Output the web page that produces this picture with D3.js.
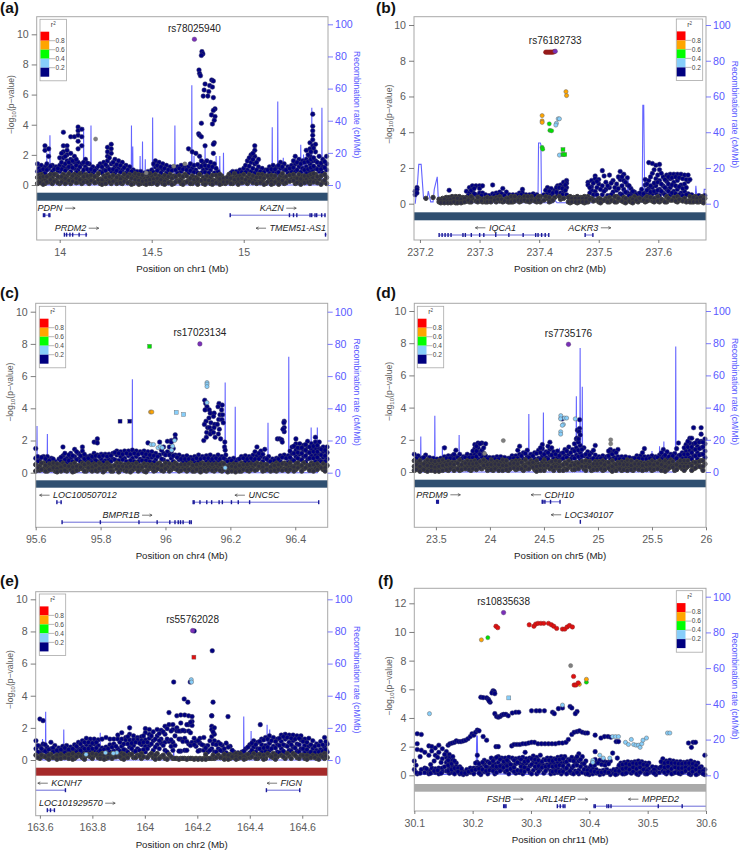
<!DOCTYPE html>
<html><head><meta charset="utf-8">
<script src="https://cdn.jsdelivr.net/npm/d3@7/dist/d3.min.js"></script>
<style>html,body{margin:0;padding:0;background:#fff}svg{display:block}text{font-family:"Liberation Sans",Arial,sans-serif}</style>
</head><body><svg id="c" width="740" height="851"></svg>
<script>
// ===== Legend =====
const r2Colors = ["#ff0000","#ffa500","#00ff00","#87cefa","#000080"];
const r2Labels = ["0.8","0.6","0.4","0.2"];
const yTicks10 = [0,2,4,6,8,10];
const yTicks12 = [0,2,4,6,8,10,12];
const recTicks = [0,20,40,60,80,100];

// ===== Panel a ===== columns: [position, -log10p values...]
const colsA = [[13.88,1.4,.9,.5,.1],[13.90,1.3,.7,.3],[13.92,2.6,2.3,1.2,.8,.4,.1],[13.94,2.4,1.9,1.1,.6,.2],[13.96,1.3,.9,.5,.1],[13.98,1.2,.7,.3],[14.00,1.8,1.3,.9,.5,.1],[14.02,3.5,2.6,2.2,1.8,1.2,.7,.3],[14.04,2.6,2.3,2.0,1.6,1.1,.6,.2],[14.06,3.2,2.1,1.7,1.3,.9,.4,.1],[14.08,3.2,1.9,1.5,1.1,.7,.3],[14.10,3.85,3.6,3.3,2.9,2.4,1.5,1.0,.6,.2],[14.12,3.7,3.2,2.6,1.4,.8,.4,.1],[14.14,1.7,1.2,.7,.3],[14.16,1.4,.9,.5,.1],[14.18,1.2,.8,.3],[14.20,1.1,.6,.2],[14.22,1.4,.9,.4,.1],[14.24,1.5,1.0,.6,.2],[14.26,2.5,2.2,1.9,1.6,1.2,.7,.3],[14.28,2.7,2.4,2.1,1.4,.9,.5,.1],[14.30,1.7,1.2,.8,.3],[14.32,1.6,1.1,.6,.2],[14.34,1.5,1.0,.5,.1],[14.36,1.3,.8,.4],[14.38,1.2,.7,.2],[14.40,1.0,.6,.1],[14.42,.9,.5,.2],[14.44,.9,.4,.1],[14.46,.8,.4,.1],[14.48,.9,.5,.2],[14.50,1.0,.6,.1],[14.52,1.6,1.2,.7,.3],[14.54,1.5,1.1,.6,.2],[14.56,1.4,1.0,.5,.1],[14.58,1.3,.8,.4],[14.60,1.2,.7,.2],[14.62,1.1,.6,.1],[14.64,1.2,.8,.3],[14.66,1.3,.9,.4,.1],[14.68,1.2,.7,.2],[14.70,2.4,1.2,.8,.3],[14.72,2.2,1.1,.6,.1],[14.74,2.1,1.0,.5,.2],[14.76,1.9,1.2,.7,.3],[14.78,1.5,1.0,.5,.1],[14.80,1.6,1.1,.6,.2],[14.82,1.5,1.0,.5,.1],[14.84,1.4,.8,.3],[14.86,.9,.5,.2],[14.88,.6,.3,.1],[14.90,.4,.1],[14.92,.7,.3],[14.94,.9,.5,.1],[14.96,.9,.6,.2],[14.98,1.0,.6,.3],[15.00,1.1,.7,.2],[15.02,1.6,1.0,.5,.1],[15.04,2.0,1.5,.9,.4],[15.06,2.6,2.3,1.9,1.4,.8,.3],[15.08,1.7,1.2,.7,.2],[15.10,1.1,.7,.3],[15.12,1.0,.6,.1],[15.14,1.2,.8,.4],[15.16,1.3,.9,.5,.1],[15.18,1.2,.8,.3],[15.20,1.5,1.1,.6,.2],[15.22,1.4,1.0,.5,.1],[15.24,1.2,.8,.3],[15.26,1.3,.9,.4],[15.28,1.9,1.4,.9,.5,.1],[15.30,1.7,1.2,.7,.2],[15.32,1.6,1.1,.6,.3],[15.34,2.3,1.7,1.2,.8,.4],[15.36,2.8,2.4,1.9,1.4,.9,.5,.1],[15.375,4.7,3.9,3.6,3.3,3.0,2.6,1.6,1.0,.5],[15.39,2.7,2.2,1.6,1.1,.7,.3],[15.41,1.9,1.3,.9,.4],[15.43,1.7,1.2,.8,.2],[15.45,1.9,1.4,1.0,.5,.1]];
const fillA = [[13.887,1.1,.65,.2],[13.895,.95,.5,.15],[13.91,1.05,.55,.05],[13.93,1.4,1.0,.55,.2],[13.95,1.25,.7,.35],[13.97,1.05,.7,.25],[13.99,.95,.55,.15],[14.01,2.1,1.5,1.05,.55,.2],[14.03,1.9,1.4,.95,.45,.1],[14.05,1.5,1.2,.75,.3],[14.07,1.6,1.15,.6,.25],[14.09,1.7,1.3,.85,.45,.15],[14.11,1.2,.75,.35],[14.13,1.5,1.0,.55,.2],[14.15,1.45,1.05,.6,.2],[14.17,1.05,.65,.3],[14.19,.95,.55,.15],[14.21,1.25,.75,.35],[14.23,1.2,.8,.35,.05],[14.25,1.35,.95,.5,.1],[14.27,1.8,1.05,.55,.2],[14.29,1.5,1.05,.65,.25],[14.31,1.35,.95,.5,.1],[14.33,1.3,.85,.4,.15],[14.35,1.15,.7,.25],[14.37,1.0,.55,.15],[14.39,.9,.45,.05],[14.41,.75,.35],[14.43,.7,.3,.05],[14.45,.65,.25],[14.47,.7,.3,.05],[14.49,.75,.35,.1],[14.51,1.4,.85,.4,.15],[14.53,1.3,.95,.45,.05],[14.55,1.2,.8,.35],[14.57,1.1,.65,.25,.05],[14.59,1.0,.55,.15],[14.61,.95,.45,.05],[14.63,1.0,.55,.2],[14.65,1.1,.65,.25],[14.67,1.05,.55,.05],[14.69,1.0,.6,.2],[14.71,1.4,.95,.45,.1],[14.73,1.3,.85,.35],[14.75,1.35,.8,.4,.05],[14.77,1.6,1.25,.8,.3],[14.79,1.3,.85,.35,.05],[14.81,1.25,.8,.3],[14.83,1.2,.65,.25,.05],[14.85,1.1,.65,.15],[14.87,.7,.4,.05],[14.89,.45,.2],[14.91,.5,.2],[14.93,.8,.45,.1],[14.95,.75,.35],[14.97,.8,.4,.05],[14.99,.85,.45,.15],[15.01,1.3,.85,.35],[15.03,1.8,1.25,.7,.25],[15.05,2.1,1.7,1.1,.6,.15],[15.07,1.5,1.0,.5,.1],[15.09,.9,.5,.15],[15.11,.85,.45,.05],[15.13,1.0,.6,.2],[15.15,1.05,.65,.25,.05],[15.17,1.05,.6,.2],[15.19,1.3,.85,.4,.05],[15.21,1.2,.75,.3],[15.23,1.0,.55,.15],[15.25,1.1,.65,.25],[15.27,1.6,1.15,.7,.3],[15.29,1.5,1.0,.45,.15],[15.31,1.4,.85,.4,.05],[15.33,1.5,1.0,.6,.15],[15.35,2.0,1.55,1.05,.6,.2],[15.365,2.2,1.7,1.15,.7,.25],[15.38,2.45,1.8,1.25,.75,.2],[15.40,1.5,1.05,.55,.15],[15.42,1.45,1.05,.6,.05],[15.44,1.55,1.15,.7,.3]];
const navyA = [[14.773,8.85],[14.778,8.7],[14.77,8.6],[14.757,7.63],[14.76,7.4],[14.765,7.25],[14.826,6.97],[14.835,6.9],[14.79,6.7],[14.815,6.6],[14.83,6.5],[14.785,6.3],[14.81,6.2],[14.78,5.9],[14.805,5.9],[14.835,5.8],[14.844,5.05],[14.835,4.95],[14.825,4.65],[14.844,4.55],[14.84,4.3],[14.83,4.05],[14.77,4.1],[14.755,3.4],[14.76,3.3],[14.77,3.2],[14.84,2.8],[14.835,2.7],[14.79,2.6],[14.835,2.1],[13.99,1.1]];
const grayA = [[14.195,3.05],[14.62,1.25],[14.68,1.4],[14.47,.8]];
const leadA = [[14.732,9.67,"rs78025940"]];
const recA = [[13.907,12],[13.947,31],[13.93,20],[14.008,14],[14.13,36],[14.17,37],[14.39,37],[14.397,24],[14.437,18],[14.45,27],[14.465,16],[14.505,42],[14.626,37],[14.718,62],[14.73,18],[14.79,25],[14.85,18],[14.87,18],[14.89,20],[15.155,36],[15.185,52],[15.215,17],[15.28,18],[15.31,25],[15.325,19],[15.34,18],[15.37,48],[15.425,48]];

// ===== Panel b =====
const colsB = [[237.192,.7,.5],[237.195,.9,.8,.6],[237.210,.3],[237.222,.35],[237.232,.25,.1],[237.238,.3,.1],[237.244,.35,.15],[237.249,.75,.35,.1],[237.254,.4,.15],[237.260,.4,.2,.05],[237.266,.4,.15],[237.272,.35,.1],[237.278,.7,.35,.15],[237.283,.9,.6,.3,.1],[237.288,1.0,.7,.3],[237.294,1.0,.5,.15],[237.300,1.0,.85,.6,.3],[237.305,1.0,.6,.25,.1],[237.310,.5,.3,.1],[237.316,.45,.15],[237.322,1.05,.55,.3],[237.328,.6,.35,.1],[237.334,.65,.4,.15],[237.339,.85,.5,.1],[237.345,.65,.3],[237.350,.5,.1],[237.356,.5,.25,.1],[237.362,.5,.3],[237.367,.6,.35,.1],[237.372,.8,.6,.3],[237.378,.5,.15],[237.384,.5,.3,.1],[237.390,.55,.2],[237.396,.5,.3,.1],[237.402,.4,.1],[237.408,.5,.2],[237.414,.9,.6,.3],[237.420,.85,.5,.15],[237.426,.75,.35],[237.431,1.0,.85,.5],[237.436,1.05,.6,.25],[237.441,1.2,.95,.7,.3],[237.446,1.3,1.15,.9,.5],[237.452,.4,.2,.05],[237.458,.35,.15],[237.464,.4,.2,.05],[237.470,.35,.15],[237.476,.4,.2,.05],[237.482,1.2,1.05,.4,.1],[237.488,1.3,.95,.75,.3],[237.494,1.55,1.4,.7,.2],[237.500,1.35,1.1,.3,.1],[237.506,1.85,1.0,.5,.15],[237.512,1.2,.8,.3],[237.518,1.6,.9,.35,.1],[237.524,1.3,.65,.2],[237.530,1.1,.75,.4,.1],[237.536,1.8,1.35,.55,.2],[237.542,1.65,1.3,.8,.35,.1],[237.548,1.45,1.05,.6,.2],[237.554,.85,.55,.3,.1],[237.560,.65,.4,.15],[237.566,.55,.3,.1],[237.572,.8,.45,.2],[237.578,1.35,1.05,.6,.3,.1],[237.584,2.3,1.3,.85,.5,.2],[237.590,2.25,1.7,.9,.55,.15],[237.596,2.15,1.4,1.0,.6,.3],[237.602,2.2,1.9,1.3,.8,.45,.1],[237.608,1.5,1.0,.6,.2],[237.614,1.6,1.25,.8,.4,.1],[237.620,1.65,1.4,.9,.5,.2],[237.626,1.65,1.2,.7,.35],[237.632,1.65,1.3,.8,.4,.1],[237.638,1.65,1.05,.6,.2],[237.644,1.6,1.1,.7,.3],[237.650,1.6,1.25,.55,.15],[237.656,.5,.3,.1],[237.662,.4,.2],[237.668,.45,.25,.1],[237.674,.4,.3,.1],[237.678,.45,.3]];
const fillB = [[237.235,.2,.05],[237.241,.25,.05],[237.247,.2,.05],[237.252,.25,.05],[237.257,.3,.1],[237.263,.3,.05],[237.269,.25,.05],[237.275,.3,.1],[237.281,.45,.2],[237.286,.75,.4,.1],[237.291,.85,.55],[237.297,.35,.1],[237.303,.45,.15],[237.313,.35,.1],[237.319,.3,.1],[237.325,.45,.2],[237.331,.5,.25],[237.337,.55,.25],[237.342,.45,.15],[237.348,.3,.1],[237.353,.4,.1],[237.359,.4,.15],[237.365,.45,.2],[237.37,.5,.15],[237.375,.4,.2],[237.381,.4,.15],[237.387,.4,.2],[237.393,.45,.15],[237.399,.4,.2],[237.411,.75,.4],[237.417,.7,.35,.1],[237.423,.6,.2],[237.429,.9,.65],[237.434,.9,.4],[237.439,.85,.5],[237.444,1.05,.75],[237.449,.35,.1],[237.455,.3,.1],[237.461,.3,.1],[237.467,.3,.1],[237.473,.3,.1],[237.479,.3,.1],[237.485,.9,.6,.25],[237.491,1.15,.5,.15],[237.497,1.25,.9,.5],[237.503,.8,.25,.05],[237.509,1.55,.7,.2],[237.515,1.0,.45,.1],[237.521,1.15,.5,.2],[237.527,.9,.4,.1],[237.533,1.5,.85,.3],[237.539,1.5,1.0,.5,.15],[237.545,1.2,.65,.3,.05],[237.551,1.0,.45,.15],[237.557,.7,.25,.05],[237.563,.5,.2],[237.569,.6,.3],[237.575,.55,.2],[237.581,1.1,.75,.4,.15],[237.587,1.5,1.0,.65,.35],[237.593,1.9,1.15,.7,.3,.1],[237.599,1.6,1.2,.75,.4,.15],[237.605,1.7,1.1,.7,.25],[237.611,1.35,.9,.5,.1],[237.617,1.5,1.1,.7,.3],[237.623,1.45,1.05,.6,.2],[237.629,1.5,1.0,.55,.15],[237.635,1.45,.95,.5,.25],[237.641,1.4,.85,.45,.15],[237.647,1.35,.9,.5,.1],[237.653,1.35,.4,.1],[237.659,.35,.1],[237.665,.3,.1],[237.671,.35,.15],[237.676,.25,.05]];
const redB = [[237.411,8.48],[237.413,8.48],[237.415,8.48],[237.417,8.48],[237.419,8.48],[237.421,8.48],[237.423,8.48],[237.425,8.5]];
const orangeB = [[237.445,6.27],[237.446,6.05],[237.405,4.93],[237.405,4.63],[237.405,4.55]];
const greenB = [[237.417,4.47],[237.418,4.1],[237.421,4.08],[237.405,3.15],[237.406,3.05]];
const greenSqB = [[237.44,3.03],[237.44,2.75],[237.443,2.75]];
const blueB = [[237.432,4.75],[237.434,4.75],[237.429,4.5],[237.428,4.4],[237.434,2.72]];
const leadB = [[237.427,8.53,"rs76182733"]];
const recLineB = [[237.192,0],[237.196,12],[237.198,22],[237.202,22],[237.206,3],[237.212,3],[237.214,7],[237.218,1],[237.222,1],[237.224,8],[237.229,15],[237.231,1],[237.27,.5],[237.398,.5],[237.399,34],[237.402,34],[237.403,33],[237.404,.5],[237.424,.5],[237.426,2],[237.43,.5],[237.49,.5],[237.495,6],[237.5,1],[237.54,1],[237.541,12],[237.543,2],[237.548,2],[237.549,15],[237.551,1],[237.573,1],[237.574,55],[237.5755,55],[237.577,8],[237.6,6],[237.613,6],[237.614,17],[237.616,4],[237.662,4],[237.663,10],[237.665,2],[237.676,2],[237.677,8],[237.68,8]];

// ===== Panel c =====
const colsC = [[95.600,1.5,.9,.5,.1],[95.612,.8,.4,.15],[95.624,1.0,.6,.25],[95.636,1.0,.7,.35,.1],[95.648,.9,.5,.2],[95.660,.7,.4,.1],[95.672,.85,.5,.2],[95.684,1.6,1.05,.6,.3],[95.696,.9,.65,.35,.1],[95.708,1.2,.9,.5,.2],[95.720,1.45,1.0,.6,.3,.1],[95.732,1.2,.85,.45,.2],[95.744,1.6,1.35,1.0,.6,.25],[95.756,1.0,.75,.4,.1],[95.768,1.05,.8,.5,.2],[95.780,1.9,1.2,.9,.55,.25],[95.790,2.1,1.85,1.1,.7,.35,.1],[95.802,1.15,.85,.5,.2],[95.814,1.15,.75,.45,.15],[95.826,1.15,.8,.5,.25],[95.838,1.2,.85,.4,.1],[95.850,1.35,1.1,.6,.25],[95.862,1.3,1.0,.55,.2],[95.874,1.35,.9,.5,.15],[95.886,1.35,1.05,.55,.3],[95.898,1.4,.9,.5,.15],[95.910,1.35,1.0,.6,.25],[95.922,1.3,.85,.45,.2],[95.934,1.35,1.0,.55,.1],[95.946,1.85,1.3,.9,.5,.2],[95.958,1.3,.95,.5,.25],[95.970,1.2,.8,.45,.15],[95.982,1.9,1.1,.6,.3],[95.994,1.6,1.2,.8,.4,.1],[96.006,1.95,1.3,.7,.35],[96.018,2.0,1.9,1.3,.9,.5,.2],[96.030,2.35,2.1,1.1,.6,.25],[96.042,1.1,.8,.4,.1],[96.054,1.0,.65,.35],[96.066,1.05,.7,.4,.1],[96.078,.95,.6,.25],[96.090,1.0,.65,.3,.1],[96.102,1.1,.7,.4,.15],[96.114,1.0,.6,.3],[96.126,1.05,.75,.4,.1],[96.138,1.1,.7,.35],[96.150,1.0,.65,.3,.1],[96.162,1.1,.75,.4],[96.174,1.0,.6,.25,.1],[96.186,1.1,.8,.4],[96.198,.85,.5,.2],[96.210,.9,.55,.15],[96.222,.8,.5,.2],[96.234,1.0,.6,.3,.1],[96.246,1.05,.7,.35],[96.258,1.0,.65,.3,.1],[96.270,1.1,.75,.4],[96.282,1.6,1.05,.6,.2],[96.294,1.35,1.0,.55,.3],[96.306,1.45,.9,.5,.15],[96.318,1.0,.7,.35],[96.330,.85,.5,.2],[96.342,.9,.6,.3,.1],[96.354,1.05,.7,.4],[96.366,3.2,2.8,2.55,1.1,.6,.25],[96.378,1.05,.65,.35,.1],[96.390,1.6,1.2,.8,.4],[96.402,2.1,1.8,1.4,1.0,.55,.2],[96.414,1.8,1.5,1.15,.8,.4],[96.426,1.7,1.4,1.0,.6,.25],[96.438,1.95,1.6,1.25,.85,.45],[96.450,1.8,1.45,1.05,.6,.2],[96.462,2.2,1.9,1.5,1.1,.7,.3],[96.474,1.9,1.5,1.15,.8,.4],[96.486,1.6,1.3,.95,.55,.2],[96.498,1.6,1.25,.85,.45]];
const fillC = [[95.606,1.0,.7,.3],[95.618,.95,.6,.2],[95.63,.85,.45,.1],[95.642,.75,.55,.2],[95.654,.85,.6,.3],[95.666,.55,.25,.05],[95.678,.95,.7,.35,.1],[95.69,1.2,.8,.45,.15],[95.702,1.1,.75,.4],[95.714,1.05,.7,.35,.05],[95.726,1.3,.8,.4,.15],[95.738,1.05,.7,.35],[95.75,1.15,.85,.5,.1],[95.762,.9,.6,.3],[95.774,1.0,.65,.35,.1],[95.785,1.05,.75,.45,.15],[95.796,1.0,.6,.25],[95.808,1.05,.65,.3,.05],[95.82,1.0,.6,.3],[95.832,1.05,.7,.35,.1],[95.844,1.25,.8,.45],[95.856,1.2,.75,.4,.05],[95.868,1.15,.8,.4],[95.88,1.2,.7,.35,.1],[95.892,1.15,.75,.4,.05],[95.904,1.2,.7,.35],[95.916,1.15,.7,.35,.1],[95.928,1.2,.75,.35],[95.94,1.15,.75,.4,.05],[95.952,1.1,.7,.35],[95.964,1.05,.65,.3,.1],[95.976,1.0,.55,.25],[95.988,1.4,.85,.45,.15],[96.0,1.1,.6,.25],[96.012,1.6,1.1,.55,.1],[96.024,1.5,1.05,.7,.35],[96.036,.95,.5,.2],[96.048,.85,.5,.15],[96.06,.85,.5,.2],[96.072,.85,.55,.2],[96.084,.8,.45,.1],[96.096,.9,.5,.2],[96.108,.85,.55,.25,.05],[96.12,.9,.5,.15],[96.132,.9,.55,.2],[96.144,.85,.5,.15],[96.156,.9,.55,.2],[96.168,.85,.5,.15],[96.18,.9,.55,.2],[96.192,.7,.35,.05],[96.204,.75,.4,.1],[96.216,.65,.35,.05],[96.228,.85,.45,.1],[96.24,.9,.5,.2],[96.252,.85,.5,.15],[96.264,.9,.55,.2],[96.276,1.3,.85,.5,.15],[96.288,1.2,.85,.4],[96.3,1.15,.7,.35,.1],[96.312,.85,.5,.2],[96.324,.7,.35,.1],[96.336,.75,.45,.15],[96.348,.85,.5,.2],[96.36,.95,.55,.15],[96.372,.9,.5,.2],[96.384,1.35,.95,.6,.2],[96.396,1.65,1.2,.75,.35,.1],[96.408,1.55,1.25,.9,.6,.3],[96.42,1.55,1.2,.8,.45,.1],[96.432,1.75,1.4,1.05,.65,.3],[96.444,1.6,1.25,.9,.45,.15],[96.456,1.65,1.3,.9,.5,.1],[96.468,1.7,1.3,.95,.55,.2],[96.48,1.45,1.1,.7,.3],[96.492,1.4,1.05,.7,.3,.1]];
const navyC = [[96.121,4.5],[96.124,4.3],[96.128,4.1],[96.122,3.9],[96.125,3.2],[96.12,3.0],[96.13,2.8],[96.127,2.5],[96.126,2.2],[96.118,2.0],[96.135,3.9],[96.138,3.7],[96.134,3.4],[96.14,3.1],[96.136,2.8],[96.141,2.6],[96.138,2.4],[96.15,3.7],[96.148,3.5],[96.152,3.0],[96.15,2.8],[96.148,2.5],[96.153,2.2],[96.165,4.3],[96.162,4.1],[96.168,3.6],[96.164,3.3],[96.16,3.0],[96.166,2.7],[96.163,2.4],[96.17,2.1],[96.175,4.2],[96.173,3.9],[96.176,3.6],[96.174,3.3],[96.178,3.1],[96.183,1.9],[96.182,1.6],[96.184,1.4],[96.345,2.1],[96.352,2.1],[96.358,2.05],[96.36,1.9],[96.365,3.1],[96.362,2.7]];
const navySqC = [[95.86,3.2],[95.89,3.2]];
const greenSqC = [[95.951,7.85]];
const orangeC = [[95.954,3.77],[95.958,3.77]];
const blueC = [[96.128,5.6],[96.128,5.5],[96.128,5.35],[96.128,4.35],[95.956,1.75],[95.963,1.75],[95.977,1.55],[95.984,1.63],[95.99,1.55],[96.028,2.0],[96.022,1.65],[96.019,1.4],[96.184,.3]];
const blueSqC = [[96.033,3.75],[96.056,3.62]];
const leadC = [[96.106,8.0,"rs17023134"]];
const recC = [[95.604,29],[95.636,24],[95.898,58],[96.184,56],[96.215,41],[96.224,7],[96.30,8],[96.306,6],[96.316,31],[96.38,72],[96.449,28],[96.468,28]];

// ===== Panel d =====
const colsD = [[23.30,1.1,.7,.35,.1],[23.335,1.0,.6,.25],[23.37,.85,.5,.2],[23.405,1.05,.65,.3,.1],[23.44,.9,.55,.2],[23.475,.85,.5,.25],[23.51,.8,.45,.15],[23.545,.85,.55,.3],[23.58,1.5,.95,.6,.25],[23.615,1.0,.65,.35,.1],[23.65,1.0,.6,.3],[23.685,1.35,.95,.6,.2],[23.72,1.1,.75,.4,.1],[23.755,.95,.6,.3],[23.79,1.1,.7,.35],[23.825,1.05,.65,.3,.1],[23.86,1.7,1.45,1.1,.7,.35],[23.89,1.8,1.5,1.25,.8,.4],[23.925,1.8,1.35,.95,.55,.2],[23.96,1.75,1.0,.65,.3],[23.995,.9,.55,.25],[24.03,.9,.6,.3,.1],[24.065,.95,.65,.35],[24.10,.95,.6,.25],[24.135,.9,.55,.2],[24.17,.85,.5,.3,.1],[24.205,1.0,.65,.35],[24.24,1.0,.7,.4,.15],[24.275,1.6,1.1,.7,.3],[24.31,1.2,.8,.45,.1],[24.345,1.35,.95,.55,.2],[24.38,1.1,.7,.4],[24.415,1.2,.8,.45,.15],[24.45,1.35,.85,.5,.2],[24.485,1.7,1.45,1.0,.6,.25],[24.52,1.25,.9,.55,.3],[24.555,1.85,1.4,1.05,.6,.2],[24.59,1.25,.85,.45,.1],[24.625,1.3,.9,.5,.25],[24.66,1.15,.8,.4],[24.695,1.4,1.0,.6,.2],[24.73,1.55,1.1,.7,.3],[24.765,1.4,.95,.55,.15],[24.80,2.05,1.5,1.05,.6,.3],[24.835,1.65,1.2,.8,.4],[24.87,1.5,1.0,.6,.2],[24.905,1.25,.85,.45],[24.94,1.2,.8,.4,.1],[24.975,1.65,1.05,.65,.3],[25.01,.95,.65,.35],[25.045,1.0,.7,.3,.1],[25.08,.95,.6,.3],[25.115,1.4,1.2,.8,.4,.15],[25.15,1.3,.9,.5,.2],[25.185,1.4,.95,.6,.25],[25.22,.95,.65,.35,.1],[25.255,.95,.6,.3],[25.29,.9,.6,.25],[25.325,.85,.55,.3,.1],[25.36,1.0,.65,.35],[25.395,1.0,.6,.3],[25.43,1.45,.95,.55,.2],[25.465,.95,.6,.3],[25.50,1.0,.7,.35,.1],[25.535,.95,.6,.3],[25.57,1.05,.7,.35],[25.605,1.4,.95,.6,.25],[25.64,1.25,.85,.5,.15],[25.675,1.1,.75,.4],[25.71,1.15,.8,.45,.1],[25.745,1.8,1.0,.6,.3],[25.78,1.2,.85,.5,.2],[25.815,1.7,1.3,.95,.55,.25],[25.85,2.1,1.8,1.35,.9,.5],[25.885,2.75,1.75,1.4,1.0,.6,.2],[25.92,1.95,1.6,1.2,.8,.4],[25.955,2.75,2.35,1.9,1.5,1.1,.7,.3],[25.99,2.05,1.75,1.3,.9,.5]];
const fillD = [[23.318,.85,.45,.15],[23.352,.7,.35,.05],[23.388,.9,.5,.15],[23.422,.75,.4,.05],[23.458,.7,.35,.1],[23.492,.65,.3,.05],[23.528,.7,.35,.05],[23.562,.75,.4,.1],[23.598,.85,.45,.15],[23.632,.85,.5,.2],[23.668,1.1,.8,.45,.1],[23.702,.9,.55,.2],[23.738,.8,.45,.15],[23.772,.9,.55,.2],[23.808,.9,.5,.15],[23.842,1.3,.9,.5,.2],[23.875,1.6,1.3,.95,.55,.15],[23.908,1.75,1.1,.65,.25],[23.942,1.5,1.15,.75,.4],[23.978,.8,.45,.1],[24.012,.75,.45,.15],[24.048,.8,.5,.2],[24.082,.8,.45,.1],[24.118,.75,.4,.1],[24.152,.7,.4,.15],[24.188,.85,.5,.2],[24.222,.85,.55,.25],[24.258,1.35,.85,.5,.2],[24.292,1.0,.6,.2],[24.328,1.15,.75,.35],[24.362,.9,.55,.2],[24.398,1.0,.6,.3],[24.432,1.15,.7,.35,.05],[24.468,1.5,1.2,.8,.4,.1],[24.502,1.1,.75,.4,.1],[24.538,1.6,1.2,.8,.4],[24.572,1.5,1.05,.65,.3],[24.608,1.1,.7,.35],[24.642,1.0,.65,.3,.1],[24.678,1.2,.85,.45,.1],[24.712,1.3,.9,.5,.15],[24.748,1.2,.8,.4],[24.782,1.75,1.3,.85,.45,.15],[24.818,1.85,1.35,.95,.55,.2],[24.852,1.4,1.0,.65,.35],[24.888,1.1,.7,.35,.1],[24.922,1.05,.65,.3],[24.958,1.35,.85,.5,.15],[24.992,.8,.5,.15],[25.028,.85,.55,.2],[25.062,.8,.45,.15],[25.098,1.3,1.0,.6,.25],[25.132,1.1,.7,.35,.05],[25.168,1.2,.8,.45,.1],[25.202,.8,.5,.2],[25.238,.8,.45,.15],[25.272,.75,.45,.1],[25.308,.7,.4,.15],[25.342,.85,.5,.2],[25.378,.85,.5,.15],[25.412,1.2,.8,.4,.1],[25.448,.8,.45,.15],[25.482,.85,.5,.2],[25.518,.8,.45,.15],[25.552,.9,.55,.2],[25.588,1.2,.8,.45,.1],[25.622,1.05,.7,.35,.05],[25.658,.95,.6,.25],[25.692,1.0,.65,.3],[25.728,1.45,.85,.45,.15],[25.762,1.05,.7,.35],[25.798,1.5,1.1,.7,.35,.1],[25.832,1.9,1.55,1.1,.7,.35],[25.868,2.1,1.55,1.2,.8,.4,.1],[25.902,1.8,1.4,1.0,.6,.25],[25.938,1.85,1.45,1.05,.65,.35],[25.972,1.85,1.55,1.1,.7,.35,.1]];
const navyD = [[24.66,3.35],[24.668,3.3],[24.83,3.25],[24.81,2.6],[24.83,2.7],[24.825,2.5],[24.835,2.3],[24.805,2.1],[24.82,2.05]];
const blueD = [[24.656,3.5],[24.654,3.3],[24.69,3.35],[24.71,3.35],[24.79,3.3],[24.68,2.95],[24.67,2.9],[24.655,2.5],[24.655,2.35]];
const grayD = [[25.118,2.0],[25.118,1.75],[24.124,1.95],[23.95,1.15]];
const leadD = [[24.727,7.93,"rs7735176"]];
const recD = [[23.36,22],[23.49,35],[23.56,16],[23.605,11],[23.63,11],[23.715,23],[23.79,12],[24.01,10],[24.36,36],[24.495,37],[24.644,15],[24.8,47],[24.835,77],[24.855,53],[25.5,13],[25.57,16],[25.61,19],[25.72,78]];

// ===== Panel e =====
const colsE = [[163.585,1.2,.7,.3],[163.60,2.55,.85,.45,.1],[163.612,2.45,1.0,.6,.25],[163.627,.8,.45,.15],[163.642,1.1,.7,.35],[163.657,.9,.55,.2],[163.672,.75,.45,.15],[163.687,.85,.5,.25],[163.702,.9,.6,.3],[163.717,.8,.5,.2],[163.732,.95,.6,.3,.1],[163.747,1.1,.7,.35],[163.762,1.2,.8,.45,.15],[163.777,1.35,.95,.55,.25],[163.792,1.3,.85,.5,.2],[163.807,1.3,1.0,.6,.3],[163.822,1.25,.9,.5,.15],[163.837,1.3,.75,.4,.2],[163.852,1.4,.8,.45,.1],[163.867,1.3,.95,.5,.25],[163.882,1.3,1.0,.55,.2],[163.897,1.55,1.3,.7,.3],[163.912,1.7,1.3,.85,.4,.1],[163.927,1.4,1.25,.6,.25],[163.942,2.0,1.6,1.25,.8,.35],[163.957,1.5,1.25,.9,.5,.15],[163.972,1.4,1.25,.7,.3],[163.987,1.45,1.2,.95,.4,.1],[164.002,1.95,1.7,1.25,.85,.5],[164.017,1.9,1.6,1.35,.9,.3],[164.032,1.75,1.2,.6,.15],[164.047,1.9,1.5,.95,.4],[164.062,1.85,1.3,1.05,.2],[164.077,2.1,1.6,1.1,.6,.1],[164.092,2.95,2.2,1.15,.35],[164.107,2.2,1.9,1.1,.6,.1],[164.122,2.75,2.0,1.8,.1],[164.137,2.8,2.3,1.8,1.3,.55,.1],[164.152,2.8,1.8,1.35,.6,.1],[164.167,2.75,2.2,1.8,1.0,.1],[164.180,2.7,2.4,2.15,1.1,.1],[164.195,1.15,.85,.1],[164.21,1.35,1.05,.6,.1],[164.225,1.4,.9,.6,.1],[164.24,.9,.5,.1],[164.255,2.75,2.1,1.9,1.45,.7,.1],[164.265,2.0,1.6,1.2,.5,.1],[164.28,1.1,.7,.3],[164.295,.9,.55,.2],[164.31,1.05,.45,.25,.1],[164.325,.85,.35,.1],[164.34,.5,.3,.15],[164.355,.45,.3,.1],[164.37,.5,.25],[164.385,.7,.3,.1],[164.40,.95,.45,.15],[164.415,1.2,.8,.4],[164.43,1.1,.7,.3,.1],[164.445,1.3,.95,.5,.2],[164.46,1.4,.9,.55,.1],[164.475,1.5,1.05,.6,.3],[164.49,1.4,.85,.4,.15],[164.505,1.3,.95,.5,.2],[164.52,1.55,1.15,.7,.3],[164.535,1.6,1.3,.9,.45,.1],[164.55,1.55,1.1,.6,.25],[164.565,1.55,1.2,.8,.4],[164.58,1.5,1.0,.55,.15],[164.595,1.5,1.25,.7,.3],[164.61,1.3,.9,.5,.1],[164.625,1.35,.85,.45,.2],[164.64,1.2,.7,.3],[164.655,1.0,.6,.25,.1],[164.67,1.15,.65,.3],[164.685,1.4,.8,.4,.1],[164.695,1.0,.5,.15]];
const fillE = [[163.592,.9,.5,.15],[163.606,.7,.3],[163.62,.95,.55,.2],[163.634,.65,.3,.05],[163.65,.75,.5,.15],[163.665,.6,.3,.05],[163.68,.65,.35,.1],[163.695,.75,.45,.15],[163.71,.65,.35,.1],[163.725,.7,.4,.05],[163.74,.85,.5,.2],[163.755,1.0,.6,.25],[163.77,1.1,.7,.35,.05],[163.785,1.1,.7,.35],[163.8,1.05,.7,.4,.1],[163.815,1.1,.75,.35],[163.83,.6,.3,.1],[163.845,.65,.3,.05],[163.86,.7,.35,.15],[163.875,.8,.4,.1],[163.89,.85,.45,.2],[163.905,1.1,.55,.2],[163.92,1.0,.65,.35,.05],[163.935,1.45,1.0,.5,.15],[163.95,1.05,.7,.35],[163.965,1.1,.55,.15],[163.98,1.05,.6,.25],[163.995,1.5,1.1,.65,.2],[164.01,1.1,.7,.15],[164.025,1.5,1.0,.4],[164.04,1.3,.8,.3,.05],[164.055,1.65,1.2,.7,.1],[164.07,1.75,.9,.3],[164.085,1.95,1.3,.5,.05],[164.1,1.8,1.25,.85,.2],[164.115,1.5,.9,.1],[164.13,1.8,1.3,.55,.05],[164.145,1.85,1.15,.1],[164.16,2.2,1.15,.6,.05],[164.174,2.35,1.7,.9,.1],[164.188,1.35,.95,.05],[164.203,1.2,.55,.05],[164.218,.95,.05],[164.232,.75,.35,.05],[164.248,1.2,.6,.1],[164.26,1.75,1.0,.3],[164.272,.95,.5,.15],[164.288,1.0,.6,.15],[164.303,.7,.35,.05],[164.318,.8,.3,.05],[164.333,.6,.2],[164.348,.4,.2,.05],[164.363,.4,.15],[164.378,.55,.2,.05],[164.393,.8,.35],[164.408,1.05,.6,.2],[164.423,.95,.5,.1],[164.438,1.15,.7,.35],[164.453,1.25,.75,.3,.05],[164.468,1.3,.8,.4],[164.483,1.2,.7,.2],[164.498,1.15,.75,.3,.05],[164.513,1.35,.9,.45],[164.528,1.45,.95,.55,.2],[164.543,1.4,.85,.4],[164.558,1.35,.95,.55,.1],[164.573,1.3,.75,.3],[164.588,1.35,.95,.5,.1],[164.603,1.15,.7,.3],[164.618,1.1,.65,.3,.05],[164.633,.95,.5,.15],[164.648,.85,.45,.15],[164.663,.9,.5,.05],[164.678,.95,.55,.2],[164.69,1.15,.65,.25]];
const navyE = [[164.11,4.85],[164.15,3.8],[164.164,3.6],[164.173,4.85],[164.26,3.6],[164.257,6.8],[164.317,2.7],[164.44,2.2],[164.188,8.03],[164.255,2.75]];
const redSqE = [[164.187,6.4]];
const blueE = [[164.177,5.0],[164.178,4.85],[163.776,.35],[163.893,.45],[163.85,.45],[163.88,.42]];
const leadE = [[164.182,8.05,"rs55762028"]];
const recE = [[163.622,30],[163.61,13],[163.691,19],[163.83,17],[164.11,10],[164.377,27],[164.405,18],[164.466,22],[164.476,19],[164.6,16],[164.65,12],[164.69,10]];

// ===== Panel f =====
const colsF = [[30.10,1.0,.4],[30.105,2.9,2.2,1.8,.1],[30.112,2.85,1.75,.4],[30.118,1.6,.5,.2],[30.125,2.05,1.4,.3,.1],[30.13,2.0,1.7,.5],[30.136,1.9,1.4,.45,.2],[30.142,2.1,1.6,.5,.1],[30.148,1.85,1.15,.5,.25],[30.155,1.65,1.25,.9,.3],[30.16,1.45,1.2,.95,.5,.15],[30.166,1.3,1.05,.6,.2],[30.172,.85,.6,.3],[30.178,.6,.35,.1],[30.184,.25,.05],[30.19,.4,.1],[30.196,.5,.2],[30.202,.5,.3,.1],[30.208,1.4,.9,.5],[30.214,.55,.3,.05],[30.22,1.05,.75,.25],[30.226,.95,.55,.1],[30.232,1.2,.85,.5],[30.238,1.15,.8,.4,.1],[30.244,1.3,.9,.5],[30.25,1.2,.7,.4],[30.256,1.2,.8,.25],[30.262,1.25,.9,.1],[30.268,1.2,.7,.35],[30.274,1.15,.8,.15],[30.28,1.2,.85,.2],[30.286,1.25,.75,.45,.1],[30.292,1.15,.85,.5],[30.298,1.2,.65,.2],[30.304,1.35,.9,.35],[30.31,1.25,.85,.5,.1],[30.316,1.4,.8,.4],[30.322,1.1,.7,.15],[30.328,1.2,.75,.45],[30.334,1.2,.85,.3,.1],[30.34,1.15,.8,.4,.15],[30.346,1.25,.9,.5,.2],[30.352,1.3,.85,.35,.1],[30.358,1.3,.9,.45],[30.364,1.1,.7,.2],[30.37,1.25,.5,.15],[30.376,1.15,.85,.3],[30.382,1.5,1.0,.35,.1],[30.388,1.3,.8,.2],[30.394,1.0,.55,.1],[30.40,.5,.2,.05],[30.406,.9,.5,.1],[30.412,.9,.4,.15],[30.418,1.05,.3,.05],[30.424,.95,.35,.1],[30.43,.9,.4,.2],[30.436,1.0,.3,.05],[30.442,.4,.15],[30.448,1.2,.45,.1],[30.454,.85,.55,.2],[30.46,.9,.6,.3,.1],[30.466,.95,.65,.25],[30.472,.9,.55,.15],[30.478,.95,.7,.35],[30.484,1.0,.6,.2,.05],[30.49,.95,.7,.3],[30.496,.85,.5,.1],[30.502,.85,.45,.2],[30.508,.6,.25],[30.514,.55,.3,.05],[30.52,.5,.2],[30.526,1.15,.85,.3],[30.532,1.0,.7,.4,.1],[30.538,1.05,.75,.35],[30.544,1.0,.6,.15],[30.55,.95,.7,.3],[30.556,.95,.75,.4,.1],[30.562,.9,.6,.25],[30.568,.95,.7,.45],[30.574,1.0,.65,.2,.05],[30.58,.9,.6,.35],[30.586,.85,.5,.1],[30.592,.6,.35,.2],[30.598,1.4,.4,.05]];
const fillF = [[30.103,.7,.2],[30.11,1.3,.15],[30.121,.45],[30.128,.75,.15],[30.134,1.0,.3],[30.14,1.25,.35],[30.146,.9,.15],[30.152,1.45,.6],[30.158,1.05,.7,.3],[30.164,.8,.4],[30.169,1.0,.5,.1],[30.175,.5,.25],[30.181,.45,.15],[30.187,.15],[30.193,.25],[30.199,.35],[30.205,.85,.4],[30.211,.8,.45,.15],[30.217,.9,.4],[30.223,.6,.3],[30.229,.85,.35],[30.235,1.0,.65,.3],[30.241,1.25,.6,.2],[30.247,1.1,.65,.3],[30.253,.95,.55],[30.259,1.05,.65,.35],[30.265,.75,.45],[30.271,1.05,.55,.25],[30.277,.9,.35],[30.283,1.1,.6,.3],[30.289,.95,.55,.25],[30.295,1.0,.4],[30.301,1.15,.75,.1],[30.307,1.1,.6],[30.313,1.05,.65,.25],[30.319,.95,.55],[30.325,1.05,.6,.3],[30.331,1.05,.65],[30.337,1.0,.6,.25],[30.343,1.1,.65,.3],[30.349,1.1,.7,.25],[30.355,1.15,.65,.25],[30.361,.95,.5,.1],[30.367,1.05,.3],[30.373,1.0,.65,.1],[30.379,1.3,.7,.2],[30.385,1.1,.6],[30.391,.8,.4],[30.397,.35,.1],[30.403,.7,.3],[30.409,.7,.25],[30.415,.85,.2],[30.421,.75,.2],[30.427,.7,.25],[30.433,.8,.2],[30.445,.3,.05],[30.451,.7,.3],[30.457,.75,.45,.1],[30.463,.8,.5,.15],[30.469,.75,.4],[30.475,.85,.55,.25],[30.481,.8,.45,.1],[30.487,.85,.55,.2],[30.493,.75,.4],[30.499,.7,.3,.1],[30.511,.4,.15],[30.523,.95,.6],[30.529,.85,.55,.2],[30.535,.9,.6,.25],[30.541,.85,.45,.1],[30.547,.85,.55,.2],[30.553,.8,.5,.15],[30.559,.8,.5,.2],[30.565,.85,.55,.3],[30.571,.85,.45,.1],[30.577,.8,.5,.25],[30.583,.7,.4,.05],[30.589,.5,.25],[30.595,.3,.1]];
const navyF = [[30.235,5.9],[30.237,5.85],[30.233,5.75],[30.238,5.7],[30.214,5.45],[30.218,5.42],[30.224,5.4],[30.227,5.3],[30.23,5.1],[30.228,5.2],
 [30.238,4.3],[30.241,4.1],[30.244,4.05],[30.247,4.1],[30.25,4.2],[30.253,4.25],[30.257,4.25],[30.261,4.15],[30.268,4.35],[30.274,4.4],[30.279,4.4],[30.301,4.5],[30.309,4.5],[30.315,4.5],[30.323,4.5],[30.337,4.4],[30.34,4.3],[30.347,4.65],[30.354,4.7],[30.367,4.8],[30.37,4.7],[30.379,4.45],[30.376,4.3],
 [30.158,2.1],[30.161,2.2],[30.165,2.25],[30.169,2.3],[30.172,2.4],[30.176,2.35],[30.18,2.35],[30.184,2.4],[30.188,2.45],[30.192,2.55],[30.196,2.7],[30.199,2.9],[30.202,2.8],[30.205,3.0],[30.208,3.15],[30.211,3.1],[30.218,2.7],[30.224,2.45],
 [30.267,2.05],[30.271,2.15],[30.276,2.15],[30.281,2.15],[30.286,2.2],[30.291,2.2],[30.296,2.25],[30.301,2.3],[30.306,2.3],[30.312,2.2],[30.318,2.2],[30.324,2.2],[30.33,2.2],[30.336,2.2],[30.342,2.2],[30.348,2.25],[30.354,2.25],[30.36,2.3],[30.364,2.5],[30.37,2.85],[30.374,3.0],[30.379,3.05],[30.383,3.1],[30.388,3.0],[30.393,2.95],[30.397,2.95],[30.41,2.8],[30.42,2.6],[30.426,2.7],[30.432,2.7],[30.437,2.65],
 [30.24,2.0],[30.244,2.0],[30.29,1.6],[30.41,1.65],[30.44,1.55],[30.575,1.95],[30.57,2.25],[30.578,2.3],[30.582,2.3],[30.446,2.35],[30.45,2.35],[30.41,1.1],[30.424,1.05]];
const redF = [[30.24,10.4],[30.243,10.3],[30.297,10.5],[30.305,10.4],[30.308,10.55],[30.312,10.6],[30.317,10.6],[30.322,10.6],[30.33,10.6],[30.335,10.5],[30.339,10.4],[30.344,10.25],[30.354,10.2],[30.358,10.2],[30.362,10.35],[30.366,10.45],[30.371,10.35],[30.373,6.9],[30.374,6.3],[30.377,6.3],[30.381,6.45]];
const orangeF = [[30.215,9.45],[30.383,6.35],[30.395,6.7]];
const greenF = [[30.226,9.6],[30.395,6.5]];
const blueF = [[30.126,4.3],[30.354,4.9],[30.406,1.05],[30.418,1.4],[30.424,1.2],[30.435,1.2],[30.406,.9],[30.44,2.7],[30.445,2.7],[30.45,2.7],[30.462,2.3],[30.467,2.15],[30.472,2.5],[30.476,2.15],[30.48,2.1],[30.484,2.1],[30.487,1.95],[30.49,2.2],[30.492,2.45],[30.498,2.6],[30.534,2.95],[30.538,2.95]];
const blueSqF = [[30.262,5.4]];
const grayF = [[30.368,7.65]];
const leadF = [[30.253,11.35,"rs10835638"]];
const recLineF = [[30.1,.5],[30.15,.5],[30.2,1],[30.206,1],[30.207,22],[30.208,22],[30.209,1],[30.29,.5],[30.392,1],[30.394,4],[30.396,4],[30.398,1],[30.6,.5]];

// ===== Genes: [name, start, end, strand, row, labelLeftMb, exons] =====
const genesA = [["PDPN",13.911,13.947,1,0,13.88,[13.911,13.918,13.941,13.946]],["PRDM2",14.025,14.15,1,1,13.973,[14.025,14.037,14.055,14.07,14.105,14.143]],["KAZN",14.926,15.446,1,0,15.087,[14.926,15.248,15.27,15.288,15.36,15.369,15.387,15.396,15.423,15.441]],["TMEM51-AS1",15.44,15.45,-1,1,15.067,[15.444]]];
const genesB = [["IQCA1",237.232,237.416,-1,0,237.293,[237.232,237.237,237.242,237.247,237.252,237.272,237.276,237.286,237.3,237.307,237.327,237.349,237.373,237.394,237.398,237.404,237.41,237.416]],["ACKR3",237.477,237.491,1,0,237.449,[237.477,237.49]]];
const genesC = [["LOC100507012",95.665,95.681,-1,0,95.612,[95.665,95.678]],["UNC5C",96.085,96.472,-1,0,96.214,[96.085,96.088,96.106,96.127,96.142,96.165,96.175,96.203,96.224,96.259,96.472]],["BMPR1B",95.681,96.082,1,1,95.806,[95.681,95.799,95.918,95.974,96.013,96.029,96.039,96.046,96.054,96.074,96.079]]];
const genesD = [["PRDM9",23.505,23.526,1,0,23.319,[23.506,23.515,23.522]],["CDH10",24.483,24.65,-1,0,24.381,[24.483,24.49,24.508,24.56,24.648]],["LOC340107",24.833,24.839,-1,1,24.567,[24.836]]];
const genesE = [["KCNH7",163.584,163.698,-1,0,163.592,[163.697]],["LOC101929570",163.628,163.655,1,1,163.597,[163.628,163.64,163.655]],["FIGN",164.463,164.59,-1,0,164.466,[164.463,164.59]]];
const genesF = [["FSHB",30.253,30.257,1,0,30.224,[30.253,30.255,30.257]],["ARL14EP",30.345,30.359,1,0,30.308,[30.345,30.35,30.355,30.358]],["MPPED2",30.407,30.6,-1,0,30.467,[30.408,30.41,30.43,30.433,30.437,30.518,30.559]]];

const fromCols = c => c.flatMap(r => r.slice(1).map(y => [r[0], y]));
const spikes = (list, eps) => {
  const s = list.slice().sort((a,b)=>a[0]-b[0]);
  return s.flatMap(d => [[d[0]-eps,0],[d[0],d[1]],[d[0]+eps,0]]);
};

const panels = [
 {tag:"(a)",tagX:0,tagY:13,L:36.7,R:328,T:16.7,B:240,xd:[13.875,15.458],xt:[14,14.5,15],chr:"chr1",y0:185,yTop:34.3,yMax:10,yt:yTicks10,recTop:24.3,
  band:[192.7,200.7],bandC:"#2f4f70",legX:40,legY:19.3,core:.8,cols:colsA.concat(fillA),navy:navyA,gray:grayA,lead:leadA,rec:spikes(recA,.0015),genes:genesA,geneY:[14.5,34]},
 {tag:"(b)",tagX:376,tagY:13,L:414,R:706,T:16.7,B:240,xd:[237.19,237.68],xt:[237.2,237.3,237.4,237.5,237.6],chr:"chr2",y0:203.7,yTop:25,yMax:10,yt:yTicks10,recTop:25,
  band:[212.3,220.3],bandC:"#2f4f70",legX:676.3,legY:19,core:.42,cols:colsB.concat(fillB),red:redB,orange:orangeB,green:greenB,greenSq:greenSqB,blue:blueB,lead:leadB,rec:recLineB,genes:genesB,geneY:[14.7,34]},
 {tag:"(c)",tagX:0,tagY:298,L:35.7,R:327.7,T:303.3,B:527.3,xd:[95.6,96.5],xt:[95.6,95.8,96,96.2,96.4],chr:"chr4",y0:472.7,yTop:311.7,yMax:10,yt:yTicks10,recTop:311.7,
  band:[480.3,487.7],bandC:"#2f4f70",legX:39.3,legY:306.3,core:.65,cols:colsC.concat(fillC),navy:navyC,navySq:navySqC,greenSq:greenSqC,orange:orangeC,blue:blueC,blueSq:blueSqC,lead:leadC,rec:spikes(recC,.0008),genes:genesC,geneY:[14.5,34.5]},
 {tag:"(d)",tagX:376,tagY:298,L:414.3,R:706,T:303.3,B:527.3,xd:[23.3,26],xt:[23.5,24,24.5,25,25.5,26],chr:"chr5",y0:472,yTop:311,yMax:10,yt:yTicks10,recTop:311,
  band:[479.7,487.3],bandC:"#2f4f70",legX:417.3,legY:306.3,core:.8,cols:colsD.concat(fillD),navy:navyD,gray:grayD,blue:blueD,lead:leadD,rec:spikes(recD,.003),genes:genesD,geneY:[14.5,34.5]},
 {tag:"(e)",tagX:0,tagY:586,L:35.7,R:327.7,T:591.7,B:815.7,xd:[163.584,164.697],xt:[163.6,163.8,164,164.2,164.4,164.6],chr:"chr2",y0:760,yTop:599.3,yMax:10,yt:yTicks10,recTop:599.3,
  band:[767.7,775.7],bandC:"#a52a2a",legX:39.3,legY:594,core:.42,cols:colsE.concat(fillE),navy:navyE,redSq:redSqE,blue:blueE,lead:leadE,rec:spikes(recE,.001),genes:genesE,geneY:[14.5,34.5]},
 {tag:"(f)",tagX:378,tagY:586,L:414.3,R:706,T:588.3,B:811,xd:[30.1,30.6],xt:[30.1,30.2,30.3,30.4,30.5,30.6],chr:"chr11",y0:775.3,yTop:603.3,yMax:12,yt:yTicks12,recTop:596.7,
  band:[784,791.7],bandC:"#aaaaaa",legX:676.3,legY:590.7,core:.03,cols:colsF.concat(fillF),navy:navyF,red:redF,orange:orangeF,green:greenF,blue:blueF,blueSq:blueSqF,gray:grayF,lead:leadF,rec:recLineF,genes:genesF,geneY:[14.5,34.5]}
];
const rowLabelY = [7.5,27.5];

const NAVY="#000080", GRAYTXT="#5c5c5c", FRAME="#a8a8a8", BLUE="#5a5aff";
const svg = d3.select("#c");

panels.forEach(p => {
  const g = svg.append("g");
  const x = d3.scaleLinear().domain(p.xd).range([p.L,p.R]);
  const y = d3.scaleLinear().domain([0,p.yMax]).range([p.y0,p.yTop]);
  const rec = d3.scaleLinear().domain([0,100]).range([p.y0,p.recTop]);

  g.append("text").attr("x",p.tagX).attr("y",p.tagY).attr("font-size",15.5).attr("font-weight","bold").attr("fill","#111").text(p.tag);

  // recombination
  g.append("path").datum(p.rec).attr("fill","none").attr("stroke","#6464ff").attr("stroke-width",1.1)
   .attr("d",d3.line().x(d=>x(d[0])).y(d=>rec(d[1])));

  // points
  const pts = g.append("g");
  const circles = (data,fill,stroke,sw,r) => pts.selectAll(null).data(data||[]).join("circle")
     .attr("cx",d=>x(d[0])).attr("cy",d=>y(d[1])).attr("r",r).attr("fill",fill).attr("stroke",stroke).attr("stroke-width",sw);
  const squares = (data,fill) => pts.selectAll(null).data(data||[]).join("rect")
     .attr("x",d=>x(d[0])-2).attr("y",d=>y(d[1])-2).attr("width",4).attr("height",4).attr("fill",fill).attr("stroke","#666").attr("stroke-width",.4);

  const all = fromCols(p.cols);
  circles(all.filter(d=>d[1]>=p.core),NAVY,"#3a3a6a",.5,2.3);
  circles(p.navy,NAVY,"#3a3a6a",.5,2.3);
  // overplotted low-significance SNPs: the dense outlines read as dark grey
  circles(all.filter(d=>d[1]<p.core),"#2d2d45","#404040",1,2.2);
  squares(p.navySq,NAVY);
  circles(p.gray,"#7f7f7f","#666",.4,2.1);
  circles(p.blue,"#87cefa","#666",.5,2.1);
  squares(p.blueSq,"#87cefa");
  circles(p.green,"#00e000","#666",.4,2.1);
  squares(p.greenSq,"#00e000");
  circles(p.orange,"#ffa500","#666",.5,2.1);
  circles(p.red,p.tag==="(b)"?"#a01818":"#e01010","#8a2020",.5,2.2);
  squares(p.redSq,"#e01010");
  circles(p.lead,"#7a2fb8","#5a4a70",.4,2.3);
  g.selectAll(null).data(p.lead).join("text").attr("x",d=>x(d[0])).attr("y",d=>y(d[1])-7.5)
    .attr("text-anchor","middle").attr("font-size",10).attr("fill","#222").text(d=>d[2]);

  // gene band
  g.append("rect").attr("x",p.L).attr("y",p.band[0]).attr("width",p.R-p.L).attr("height",p.band[1]-p.band[0]).attr("fill",p.bandC);

  // genes
  const bb = p.band[1];
  p.genes.forEach(ge => {
    const [name,s,e,dir,row,lab,exons] = ge;
    const gy = bb + p.geneY[row], ly = bb + rowLabelY[row];
    const a = Math.max(x(s),p.L), b = Math.min(x(e),p.R);
    g.append("line").attr("x1",a).attr("x2",b).attr("y1",gy).attr("y2",gy).attr("stroke","#6a6ad8").attr("stroke-width",1);
    g.selectAll(null).data(exons).join("rect").attr("x",d=>x(d)-.6).attr("y",gy-2).attr("width",1.4).attr("height",4).attr("fill","#1a1a98");
    const left = x(lab);
    const arrowLen = 10, gap = 2.5;
    const t = g.append("text").attr("y",ly+3).attr("font-size",9).attr("font-style","italic").attr("fill","#222").text(name);
    const w = t.node().getComputedTextLength();
    let a0,a1;
    if(dir>0){ t.attr("x",left); a0=left+w+gap; a1=a0+arrowLen; }
    else { a1=left; a0=a1+arrowLen; t.attr("x",a0+gap+1); }
    g.append("line").attr("x1",a0).attr("x2",a1).attr("y1",ly).attr("y2",ly).attr("stroke","#444").attr("stroke-width",.7);
    g.append("path").attr("d",d3.line()([[a1-dir*2.5,ly-1.3],[a1,ly],[a1-dir*2.5,ly+1.3]])).attr("fill","none").attr("stroke","#444").attr("stroke-width",.7);
  });

  // frame
  g.append("rect").attr("x",p.L).attr("y",p.T).attr("width",p.R-p.L).attr("height",p.B-p.T).attr("fill","none").attr("stroke",FRAME).attr("stroke-width",1);

  // axes
  const fmtAxis = (sel,col) => { sel.select(".domain").remove(); sel.selectAll("line").attr("stroke",col).attr("stroke-width",.8);
     sel.selectAll("text").attr("fill",col).attr("font-size",10.6).attr("font-family",'"Liberation Sans",Arial,sans-serif'); };
  g.append("g").attr("transform",`translate(${p.L},0)`).call(d3.axisLeft(y).tickValues(p.yt).tickSize(5).tickPadding(3).tickFormat(d3.format("d"))).call(s=>fmtAxis(s,GRAYTXT));
  g.append("g").attr("transform",`translate(${p.R},0)`).call(d3.axisRight(rec).tickValues(recTicks).tickSize(5).tickPadding(2).tickFormat(d3.format("d"))).call(s=>fmtAxis(s,BLUE));
  g.append("g").attr("transform",`translate(0,${p.B})`).call(d3.axisBottom(x).tickValues(p.xt).tickSize(3).tickPadding(5).tickFormat(d=>String(+d.toFixed(1)))).call(s=>fmtAxis(s,GRAYTXT));

  // axis titles
  g.append("text").attr("x",(p.L+p.R)/2).attr("y",p.B+32).attr("text-anchor","middle").attr("font-size",9.7).attr("fill","#222").text(`Position on ${p.chr} (Mb)`);
  const ym = (p.y0+p.recTop)/2;
  const lt = g.append("text").attr("transform",`translate(${p.L-22.5},${ym}) rotate(-90)`).attr("text-anchor","middle").attr("font-size",8.6).attr("fill",GRAYTXT);
  lt.append("tspan").text("\u2212log");
  lt.append("tspan").attr("dy",1.8).attr("font-size",6).text("10");
  lt.append("tspan").attr("dy",-1.8).text("(p\u2212value)");
  g.append("text").attr("transform",`translate(${p.R+26},${ym}) rotate(90)`).attr("text-anchor","middle").attr("font-size",8.5).attr("fill",BLUE).text("Recombination rate (cM/Mb)");

  // legend
  const lg = g.append("g").attr("transform",`translate(${p.legX},${p.legY})`);
  const lcol = d3.scaleBand().domain(r2Colors).range([12.4,57.4]);
  lg.append("rect").attr("width",26.4).attr("height",61.5).attr("fill","#fff").attr("stroke",FRAME).attr("stroke-width",.8);
  lg.selectAll(null).data(r2Colors).join("rect").attr("x",.5).attr("y",d=>lcol(d)).attr("width",8.7).attr("height",lcol.bandwidth()).attr("fill",d=>d);
  lg.selectAll(null).data(r2Labels).join("line").attr("x1",9).attr("x2",15).attr("y1",(d,i)=>lcol(r2Colors[i+1])).attr("y2",(d,i)=>lcol(r2Colors[i+1])).attr("stroke","#888").attr("stroke-width",.6);
  lg.selectAll(null).data(r2Labels).join("text").attr("x",15.5).attr("y",(d,i)=>lcol(r2Colors[i+1])+2.4).attr("font-size",6.6).attr("fill","#444").text(d=>d);
  const rt = lg.append("text").attr("x",13.3).attr("y",8).attr("text-anchor","middle").attr("font-size",7).attr("fill","#444");
  rt.append("tspan").text("r"); rt.append("tspan").attr("dy",-2).attr("font-size",4.5).text("2");
});
</script></body></html>
